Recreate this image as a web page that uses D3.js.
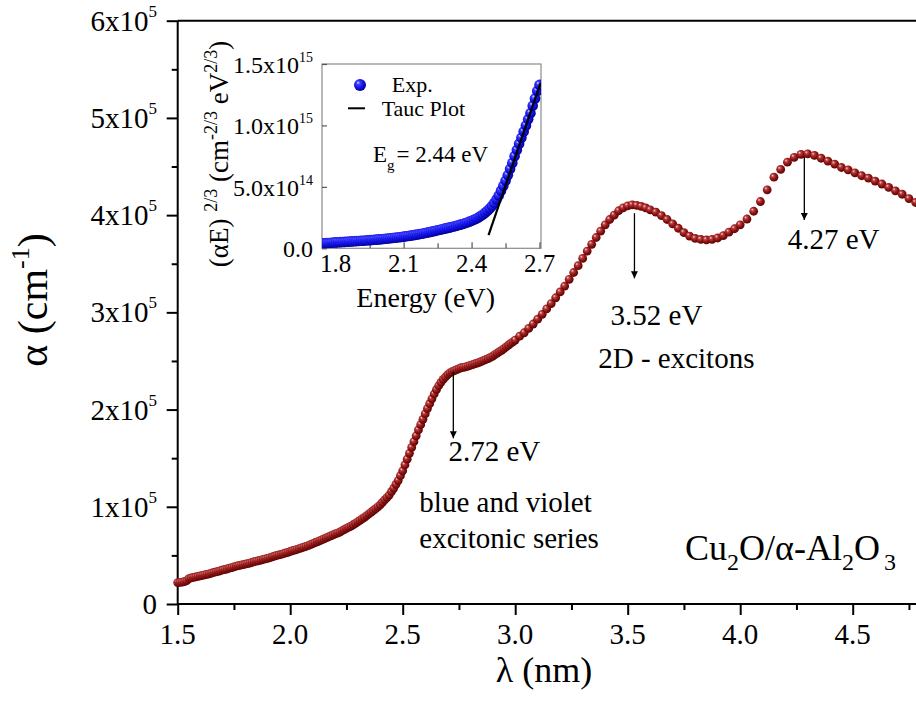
<!DOCTYPE html>
<html><head><meta charset="utf-8">
<script src="https://cdn.jsdelivr.net/npm/d3@7"></script>
<style>
html,body{margin:0;padding:0;background:#fff;overflow:hidden}
svg{display:block}
text{font-family:"Liberation Serif","Times New Roman",serif;fill:#000}
</style></head><body>
<svg id="chart" width="916" height="716"></svg>
<script>
// ---------- main spectrum: photon energy (eV) vs alpha (x1e5 cm^-1) ----------
const energy = [
  1.50,1.51,1.52,1.53,1.54,1.55,1.56,1.57,1.58,1.59,
  1.60,1.61,1.62,1.63,1.64,1.65,1.66,1.67,1.68,1.69,
  1.70,1.71,1.72,1.73,1.74,1.75,1.76,1.77,1.78,1.79,
  1.80,1.81,1.82,1.83,1.84,1.85,1.86,1.87,1.88,1.89,
  1.90,1.91,1.92,1.93,1.94,1.95,1.96,1.97,1.98,1.99,
  2.00,2.01,2.02,2.03,2.04,2.05,2.06,2.07,2.08,2.09,
  2.10,2.11,2.12,2.13,2.14,2.15,2.16,2.17,2.18,2.19,
  2.20,2.21,2.22,2.23,2.24,2.25,2.26,2.27,2.28,2.29,
  2.30,2.31,2.32,2.33,2.34,2.35,2.36,2.37,2.38,2.39,
  2.40,2.41,2.42,2.43,2.44,2.45,2.46,2.47,2.48,2.49,
  2.50,2.51,2.52,2.53,2.54,2.55,2.56,2.57,2.58,2.59,
  2.60,2.61,2.62,2.63,2.64,2.65,2.66,2.67,2.68,2.69,
  2.70,2.71,2.72,2.73,2.74,2.75,2.76,2.77,2.78,2.79,
  2.80,2.81,2.82,2.83,2.84,2.85,2.86,2.87,2.88,2.89,
  2.90,2.91,2.92,2.93,2.94,2.95,2.96,2.97,2.98,2.99,
  3.00,
  3.02,3.04,3.06,3.08,3.10,3.12,3.14,3.16,3.18,3.20,3.22,3.24,3.26,3.28,3.30,3.32,3.34,3.36,3.38,3.40,
  3.42,3.44,3.46,3.48,3.50,3.52,3.54,3.56,3.58,3.60,
  3.625,3.65,3.675,3.70,3.725,3.75,3.775,3.80,3.825,3.85,3.875,3.90,3.925,3.95,3.975,4.00,
  4.03,4.06,4.09,4.12,4.15,4.18,4.21,4.24,4.27,4.30,4.33,4.36,4.39,4.42,4.45,4.48,4.51,4.54,4.57,4.60,
  4.63,4.66,4.69,4.72,4.75,4.78,4.81
];
const alpha = [
  0.22,0.222,0.225,0.23,0.24,0.26,0.268,0.273,0.278,0.284,
  0.29,0.295,0.30,0.305,0.31,0.318,0.325,0.33,0.335,0.342,
  0.35,0.355,0.36,0.368,0.375,0.382,0.39,0.395,0.40,0.405,
  0.41,0.415,0.42,0.428,0.435,0.44,0.445,0.452,0.46,0.465,
  0.47,0.478,0.485,0.492,0.50,0.505,0.51,0.518,0.525,0.532,
  0.54,0.548,0.555,0.562,0.57,0.578,0.585,0.592,0.60,0.61,
  0.62,0.63,0.64,0.65,0.66,0.67,0.68,0.69,0.70,0.71,
  0.72,0.73,0.74,0.752,0.765,0.778,0.79,0.802,0.815,0.83,
  0.845,0.86,0.875,0.892,0.91,0.928,0.945,0.962,0.98,1.00,
  1.02,1.045,1.07,1.095,1.12,1.155,1.19,1.23,1.27,1.32,
  1.37,1.43,1.49,1.55,1.61,1.67,1.73,1.79,1.845,1.90,
  1.955,2.01,2.06,2.11,2.16,2.205,2.245,2.28,2.31,2.335,
  2.36,2.377,2.39,2.40,2.41,2.42,2.43,2.435,2.44,2.447,
  2.455,2.462,2.47,2.477,2.485,2.495,2.505,2.515,2.525,2.537,
  2.55,2.565,2.58,2.595,2.61,2.627,2.645,2.662,2.68,2.697,
  2.715,
  2.755,2.79,2.835,2.88,2.93,2.98,3.035,3.09,3.15,3.21,3.27,3.34,3.41,3.48,3.555,3.63,3.70,3.77,3.835,3.90,
  3.955,4.00,4.045,4.075,4.095,4.105,4.10,4.09,4.075,4.055,
  4.03,3.995,3.955,3.91,3.865,3.82,3.785,3.76,3.75,3.745,3.75,3.765,3.79,3.825,3.86,3.90,
  3.96,4.04,4.14,4.26,4.39,4.47,4.545,4.595,4.625,4.63,4.615,4.585,4.555,4.525,4.49,4.465,4.435,4.405,4.38,4.35,
  4.32,4.285,4.25,4.215,4.17,4.13,4.09
];
const xTicks = [1.5,2.0,2.5,3.0,3.5,4.0,4.5];
const xTickLabels = ["1.5","2.0","2.5","3.0","3.5","4.0","4.5"];
const xMinorTicks = [1.75,2.25,2.75,3.25,3.75,4.25,4.75];
const yTicks = [0,1,2,3,4,5,6];
const yTickMantissa = ["0","1x10","2x10","3x10","4x10","5x10","6x10"];
const yTickExponent = ["","5","5","5","5","5","5"];
const yMinorTicks = [0.5,1.5,2.5,3.5,4.5,5.5];

// peak annotations (arrow energy, arrow top/bottom in x1e5 cm^-1)
const peakEnergy = [2.725,3.53,4.285];
const arrowTop = [2.39,4.02,4.60];
const arrowBottom = [1.705,3.35,3.95];

// ---------- inset: Tauc plot ----------
const insetEnergy = [
  1.74,1.75,1.76,1.77,1.78,1.79,1.80,1.81,1.82,1.83,1.84,1.85,1.86,1.87,1.88,1.89,
  1.90,1.91,1.92,1.93,1.94,1.95,1.96,1.97,1.98,1.99,
  2.00,2.01,2.02,2.03,2.04,2.05,2.06,2.07,2.08,2.09,
  2.10,2.11,2.12,2.13,2.14,2.15,2.16,2.17,2.18,2.19,
  2.20,2.21,2.22,2.23,2.24,2.25,2.26,2.27,2.28,2.29,
  2.30,2.31,2.32,2.33,2.34,2.35,2.36,2.37,2.38,2.39,
  2.40,2.41,2.42,2.43,2.44,2.45,2.46,2.47,2.48,2.49,
  2.50,2.51,2.52,2.53,2.54,2.55,2.56,2.57,2.58,2.59,
  2.60,2.61,2.62,2.63,2.64,2.65,2.66,2.67,2.68,2.69,
  2.70
];
const insetValue = [ // (alpha*E)^(2/3) in units of 1e14
  0.40,0.41,0.42,0.435,0.45,0.465,0.48,0.49,0.50,0.51,0.52,0.535,0.55,0.56,0.57,0.585,
  0.60,0.61,0.62,0.635,0.65,0.665,0.68,0.695,0.71,0.725,
  0.74,0.76,0.78,0.80,0.82,0.84,0.86,0.88,0.90,0.925,
  0.95,0.975,1.00,1.03,1.06,1.09,1.12,1.155,1.19,1.225,
  1.26,1.30,1.34,1.38,1.42,1.465,1.51,1.555,1.60,1.64,
  1.68,1.725,1.77,1.82,1.87,1.925,1.98,2.04,2.10,2.17,
  2.24,2.32,2.41,2.51,2.62,2.75,2.90,3.06,3.24,3.44,
  3.68,3.97,4.30,4.68,5.08,5.50,5.95,6.45,6.95,7.50,
  8.00,8.50,9.00,9.50,10.00,10.50,11.00,11.60,12.20,12.80,
  13.30
];
const taucEnergy = [2.475,2.705];
const taucValue = [1.08,13.46];
const insetXTicks = [1.8,2.1,2.4,2.7];
const insetXTickLabels = ["1.8","2.1","2.4","2.7"];
const insetXMinor = [1.95,2.25,2.55];
const insetYTicks = [0,5,10,15];
const insetYMantissa = ["0.0","5.0x10","1.0x10","1.5x10"];
const insetYExponent = ["","14","15","15"];

// ---------- drawing ----------
const svg = d3.select("#chart");
const defs = svg.append("defs");
function ball(id, stops){
  const g = defs.append("radialGradient").attr("id", id)
    .attr("cx","0.42").attr("cy","0.4").attr("r","0.62").attr("fx","0.33").attr("fy","0.3");
  stops.forEach(s => g.append("stop").attr("offset", s[0]).attr("stop-color", s[1]));
}
ball("redBall", [[0,"#f5d0d0"],[0.28,"#b83c3c"],[0.68,"#830e0e"],[1,"#580505"]]);
ball("blueBall", [[0,"#dcdcff"],[0.25,"#3c3cff"],[0.65,"#1010e4"],[1,"#00008c"]]);
defs.append("marker").attr("id","arrowHead").attr("viewBox","0 0 10 10")
  .attr("refX",10).attr("refY",5).attr("markerWidth",7).attr("markerHeight",12)
  .attr("markerUnits","userSpaceOnUse").attr("orient","auto")
  .append("path").attr("d","M0,0 L10,5 L0,10 Z").attr("fill","#000");

const x = d3.scaleLinear().domain([1.5,4.8]).range([177.7,920.2]);
const y = d3.scaleLinear().domain([0,6]).range([604,20.7]);

function styleAxis(g){
  g.select(".domain").remove();
  g.selectAll("line").attr("stroke","#000").attr("stroke-width",2);
}
svg.append("g").attr("transform","translate(177.7,0)")
  .call(d3.axisLeft(y).tickValues(yTicks).tickSize(11).tickFormat("").tickSizeOuter(0)).call(styleAxis);
svg.append("g").attr("transform","translate(177.7,0)")
  .call(d3.axisLeft(y).tickValues(yMinorTicks).tickSize(6).tickFormat("").tickSizeOuter(0)).call(styleAxis);
svg.append("g").attr("transform","translate(0,604)")
  .call(d3.axisBottom(x).tickValues(xTicks).tickSize(11).tickFormat("").tickSizeOuter(0)).call(styleAxis);
svg.append("g").attr("transform","translate(0,604)")
  .call(d3.axisBottom(x).tickValues(xMinorTicks).tickSize(6).tickFormat("").tickSizeOuter(0)).call(styleAxis);
// frame lines
svg.append("line").attr("x1",x(1.5)).attr("x2",x(4.8)).attr("y1",y(0)).attr("y2",y(0)).attr("stroke","#000").attr("stroke-width",2);
svg.append("line").attr("x1",x(1.5)).attr("x2",x(4.8)).attr("y1",y(6)).attr("y2",y(6)).attr("stroke","#000").attr("stroke-width",2);
svg.append("line").attr("x1",x(1.5)).attr("x2",x(1.5)).attr("y1",y(0)).attr("y2",y(6)).attr("stroke","#000").attr("stroke-width",2);

// tick labels
yTicks.forEach((v,i)=>{
  const t = svg.append("text").attr("x",157).attr("y",y(v)+10).attr("text-anchor","end").attr("font-size",29);
  t.append("tspan").text(yTickMantissa[i]);
  if (yTickExponent[i]) t.append("tspan").attr("font-size",17).attr("dy",-14).text(yTickExponent[i]);
});
xTicks.forEach((v,i)=>{
  svg.append("text").attr("x",x(v)).attr("y",644).attr("text-anchor","middle").attr("font-size",29).text(xTickLabels[i]);
});
// axis titles
const yl = svg.append("text").attr("transform","translate(47,300) rotate(-90)").attr("text-anchor","middle").attr("font-size",42);
yl.append("tspan").text("α (cm");
yl.append("tspan").attr("font-size",26).attr("dy",-18).text("-1");
yl.append("tspan").attr("dy",18).text(")");
svg.append("text").attr("x",544).attr("y",682).attr("text-anchor","middle").attr("font-size",36).text("λ (nm)");

// data
svg.append("g").selectAll("circle").data(energy).join("circle")
  .attr("cx",(d)=>x(d)).attr("cy",(d,i)=>y(alpha[i])).attr("r",4.4).attr("fill","url(#redBall)");

// arrows
peakEnergy.forEach((e,i)=>{
  svg.append("line").attr("x1",x(e)).attr("x2",x(e)).attr("y1",y(arrowTop[i])).attr("y2",y(arrowBottom[i]))
    .attr("stroke","#000").attr("stroke-width",1.3).attr("marker-end","url(#arrowHead)");
});
// annotations
function note(e, a, txt, fs){
  return svg.append("text").attr("x",x(e)).attr("y",y(a)).attr("font-size",fs).text(txt);
}
note(2.703,1.474,"2.72 eV",29);
note(2.574,0.95,"blue and violet",29);
note(2.574,0.573,"excitonic series",29);
note(3.424,2.87,"3.52 eV",29);
note(3.369,2.425,"2D - excitons",29);
note(4.211,3.649,"4.27 eV",29);
const ttl = svg.append("text").attr("x",x(3.755)).attr("y",y(0.453)).attr("font-size",36);
ttl.append("tspan").text("Cu");
ttl.append("tspan").attr("font-size",24).attr("dy",10).text("2");
ttl.append("tspan").attr("dy",-10).text("O/α-Al");
ttl.append("tspan").attr("font-size",24).attr("dy",10).text("2");
ttl.append("tspan").attr("dy",-10).text("O");
ttl.append("tspan").attr("font-size",24).attr("dy",10).attr("dx",4).text("3");

// ---------- inset ----------
const ix = d3.scaleLinear().domain([1.7395,2.7066]).range([322,541]);
const iy = d3.scaleLinear().domain([0,15]).range([248.3,64]);
const inset = svg.append("g");
inset.append("rect").attr("x",322).attr("y",64).attr("width",219).attr("height",184.3)
  .attr("fill","#fff").attr("stroke","#8a8a8a").attr("stroke-width",1.2);
defs.append("clipPath").attr("id","insetClip").append("rect").attr("x",322).attr("y",64).attr("width",219).attr("height",184.3);
inset.append("g").attr("transform","translate(0,248.3)")
  .call(d3.axisTop(ix).tickValues(insetXMinor).tickSize(5).tickFormat("").tickSizeOuter(0))
  .call(g=>{g.select(".domain").remove(); g.selectAll("line").attr("stroke","#555").attr("stroke-width",1.2);});
inset.append("g").attr("transform","translate(0,248.3)")
  .call(d3.axisTop(ix).tickValues(insetXTicks).tickSize(6).tickFormat("").tickSizeOuter(0))
  .call(g=>{g.select(".domain").remove(); g.selectAll("line").attr("stroke","#555").attr("stroke-width",1.2);});
inset.append("g").attr("transform","translate(322,0)")
  .call(d3.axisRight(iy).tickValues(insetYTicks).tickSize(5).tickFormat("").tickSizeOuter(0))
  .call(g=>{g.select(".domain").remove(); g.selectAll("line").attr("stroke","#555").attr("stroke-width",1.2);});
const idots = inset.append("g").attr("clip-path","url(#insetClip)");
idots.selectAll("circle").data(insetEnergy).join("circle")
  .attr("cx",(d)=>ix(d)).attr("cy",(d,i)=>iy(insetValue[i])).attr("r",5.3).attr("fill","url(#blueBall)");
idots.append("line").attr("x1",ix(taucEnergy[0])).attr("y1",iy(taucValue[0]))
  .attr("x2",ix(taucEnergy[1])).attr("y2",iy(taucValue[1])).attr("stroke","#000").attr("stroke-width",2.2);
insetYTicks.forEach((v,i)=>{
  const t = inset.append("text").attr("x",313).attr("y",iy(v)+9).attr("text-anchor","end").attr("font-size",24);
  t.append("tspan").text(insetYMantissa[i]);
  if (insetYExponent[i]) t.append("tspan").attr("font-size",14).attr("dy",-11).text(insetYExponent[i]);
});
insetXTicks.forEach((v,i)=>{
  inset.append("text").attr("x",ix(v)).attr("y",271.7).attr("text-anchor","middle").attr("font-size",25).text(insetXTickLabels[i]);
});
inset.append("text").attr("x",425.7).attr("y",306.7).attr("text-anchor","middle").attr("font-size",28).text("Energy (eV)");
const iyl = inset.append("text").attr("transform","translate(228,154) rotate(-90)").attr("text-anchor","middle").attr("font-size",27);
iyl.append("tspan").text("(αE)  ");
iyl.append("tspan").attr("font-size",18).attr("dy",-11).text("2/3");
iyl.append("tspan").attr("dy",11).text("  (cm");
iyl.append("tspan").attr("font-size",18).attr("dy",-11).text("-2/3");
iyl.append("tspan").attr("dy",11).text(" eV");
iyl.append("tspan").attr("font-size",18).attr("dy",-11).text("2/3");
iyl.append("tspan").attr("dy",11).text(")");
// legend
inset.append("circle").attr("cx",360).attr("cy",85).attr("r",6).attr("fill","url(#blueBall)");
inset.append("text").attr("x",391.7).attr("y",92).attr("font-size",22).text("Exp.");
inset.append("line").attr("x1",348).attr("x2",365).attr("y1",108.3).attr("y2",108.3).attr("stroke","#000").attr("stroke-width",2);
inset.append("text").attr("x",381.7).attr("y",116).attr("font-size",22).text("Tauc Plot");
const eg = inset.append("text").attr("x",373).attr("y",161.7).attr("font-size",23);
eg.append("tspan").text("E");
eg.append("tspan").attr("font-size",15).attr("dy",8).text("g");
eg.append("tspan").attr("dy",-8).attr("dx",2).text("= 2.44 eV");
</script>
</body></html>
